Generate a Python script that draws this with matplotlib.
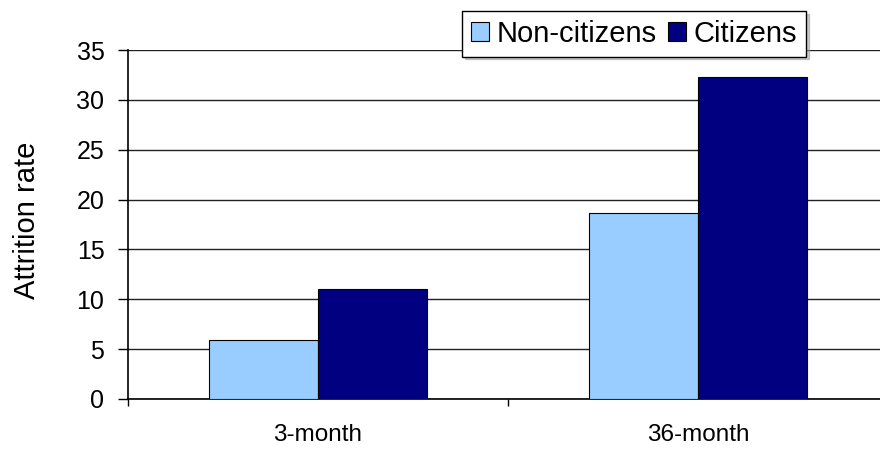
import matplotlib
matplotlib.use("Agg")
import numpy as np
from matplotlib import pyplot as plt

plt.rcParams['font.family'] = ['Liberation Sans', 'DejaVu Sans']

# Data
categories = ["3-month", "36-month"]
non_citizens = [5.9, 18.7]
citizens = [11.0, 32.3]
series_names = ["Non-citizens", "Citizens"]
y_ticks = [0, 5, 10, 15, 20, 25, 30, 35]

fig = plt.figure(figsize=(8.8, 4.49), dpi=100)
# plot area runs past the right edge like in the reference
ax = fig.add_axes([128 / 880, 50 / 449, 760 / 880, 349 / 449])

x = np.arange(len(categories))
w = 0.288
ax.bar(x - w / 2, non_citizens, w, color="#99ccff", edgecolor="black",
       linewidth=0.8, label=series_names[0], zorder=3)
ax.bar(x + w / 2, citizens, w, color="#000080", edgecolor="black",
       linewidth=0.8, label=series_names[1], zorder=3)

ax.set_xlim(-0.5, len(categories) - 0.5)
ax.set_ylim(0, 35)
ax.set_yticks(y_ticks)
ax.yaxis.grid(True, color="#222222", linewidth=1.0, zorder=0)

# category labels centred, ticks on the category boundaries
ax.set_xticks(np.arange(len(categories) + 1) - 0.5)
ax.set_xticklabels([])
ax.set_xticks(x, minor=True)
ax.set_xticklabels(categories, minor=True, fontsize=17.5)
ax.tick_params(axis="x", which="minor", length=0, pad=18)
ax.tick_params(axis="x", which="major", length=5, width=1, direction="out")
ax.tick_params(axis="y", length=7, width=1, direction="out", labelsize=18, pad=10)

for side in ["top", "right"]:
    ax.spines[side].set_visible(False)
for side in ["left", "bottom"]:
    ax.spines[side].set_linewidth(1.2)

fig.text(27 / 880, 1 - 220.5 / 449, "Attrition rate", rotation=90,
         ha="center", va="center", fontsize=21)

leg = ax.legend(loc="upper left", bbox_to_anchor=(462 / 880, 1 - 11 / 449),
                bbox_transform=fig.transFigure, ncol=2, fontsize=21,
                frameon=True, fancybox=False, shadow={"color": "#999999", "alpha": 0.5},
                handlelength=0.62, handleheight=0.62, handletextpad=0.27,
                columnspacing=0.38, borderpad=0.3, borderaxespad=0)
leg.get_frame().set_edgecolor("black")
leg.get_frame().set_linewidth(1.0)

fig.savefig("out.png", dpi=100)
